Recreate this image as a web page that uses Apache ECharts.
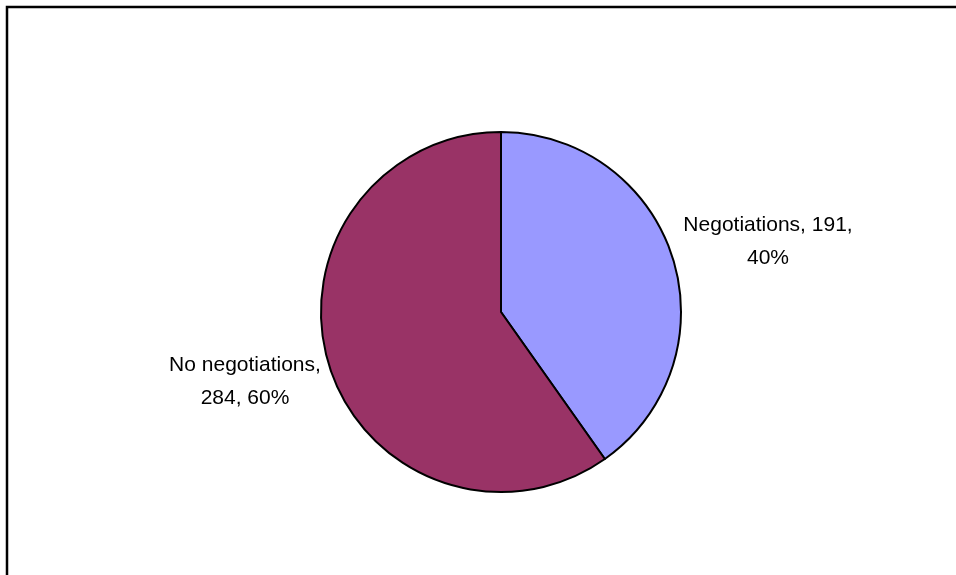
<!DOCTYPE html>
<html>
<head>
<meta charset="utf-8">
<script src="https://cdn.jsdelivr.net/npm/echarts@6/dist/echarts.min.js"></script>
<style>
  html, body { margin: 0; padding: 0; background: #fff; }
  #chart { width: 956px; height: 575px; }
</style>
</head>
<body>
<div id="chart"></div>
<script>
  // slice data
  const categories = ['Negotiations', 'No negotiations'];
  const counts = [191, 284];
  const colors = ['#9999FF', '#993366'];
  // where each label wraps: after the value, or after the name
  const wrapAfter = ['value', 'name'];
  // label centres (x, y) beside the pie
  const labelPos = [[768, 242], [245, 382]];

  const total = counts.reduce((a, b) => a + b, 0);

  const chart = echarts.init(document.getElementById('chart'));

  const option = {
    backgroundColor: '#fff',
    animation: false,
    graphic: [
      {
        type: 'polyline',
        shape: { points: [[7, 575], [7, 7], [956, 7]] },
        style: { stroke: '#000', lineWidth: 2.5, fill: null }
      }
    ],
    series: [
      {
        type: 'pie',
        center: [501, 312],
        radius: 180,
        startAngle: 90,
        clockwise: true,
        itemStyle: { borderColor: '#000', borderWidth: 2 },
        label: {
          show: true,
          position: 'outside',
          fontFamily: 'Liberation Sans, Arial, sans-serif',
          fontSize: 21,
          lineHeight: 33,
          color: '#000',
          align: 'center',
          formatter: p => {
            const pct = Math.round(p.value / total * 100) + '%';
            return wrapAfter[p.dataIndex] === 'value'
              ? p.name + ', ' + p.value + ',\n' + pct
              : p.name + ',\n' + p.value + ', ' + pct;
          }
        },
        labelLine: { show: false },
        labelLayout: p => ({
          x: labelPos[p.dataIndex][0],
          y: labelPos[p.dataIndex][1],
          align: 'center',
          verticalAlign: 'middle'
        }),
        emphasis: { disabled: true },
        data: categories.map((name, i) => ({
          name: name,
          value: counts[i],
          itemStyle: { color: colors[i] }
        }))
      }
    ]
  };

  chart.setOption(option);
</script>
</body>
</html>
